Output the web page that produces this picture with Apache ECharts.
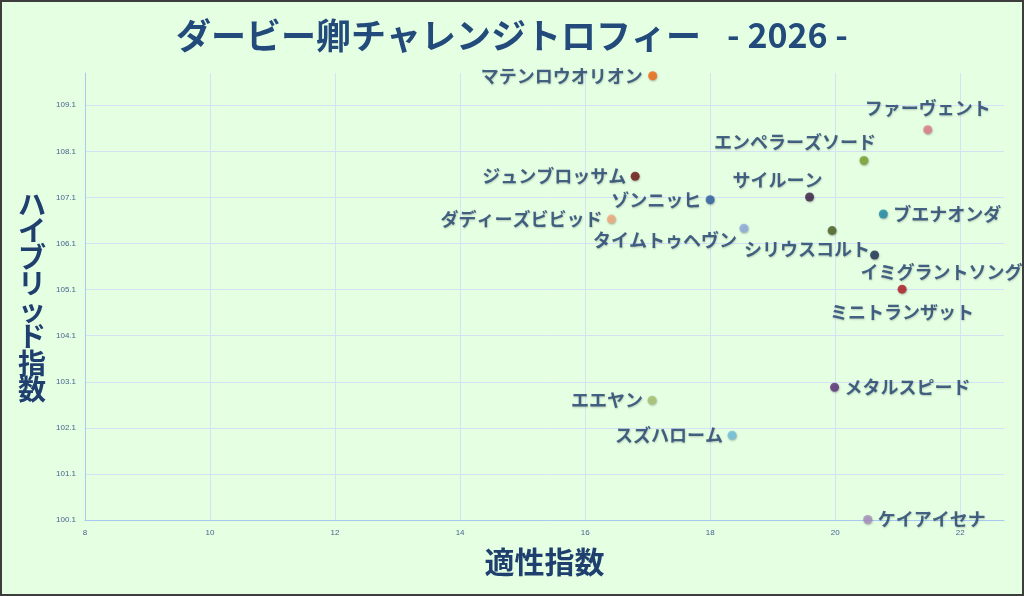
<!DOCTYPE html>
<html>
<head>
<meta charset="utf-8">
<script src="https://cdn.jsdelivr.net/npm/echarts@6/dist/echarts.min.js"></script>
<style>
html,body{margin:0;padding:0;background:#e5ffe3;}
#c{width:1024px;height:596px;}
</style>
</head>
<body>
<div id="c"></div>
<script>
// ---- data ----
const names = ['マテンロウオリオン','ファーヴェント','エンペラーズソード','ジュンブロッサム','サイルーン','ゾンニッヒ','ブエナオンダ','ダディーズビビッド','タイムトゥヘヴン','シリウスコルト','イミグラントソング','ミニトランザット','メタルスピード','エエヤン','スズハローム','ケイアイセナ'];
const xValues = [17.08, 21.48, 20.46, 16.80, 19.59, 18.00, 20.77, 16.42, 18.54, 19.95, 20.63, 21.07, 19.99, 17.07, 18.35, 20.52];
const yValues = [109.74, 108.57, 107.90, 107.56, 107.11, 107.05, 106.74, 106.63, 106.43, 106.38, 105.85, 105.11, 102.98, 102.70, 101.94, 100.11];
const xTicks = [8, 10, 12, 14, 16, 18, 20, 22];
const yTicks = [100.1, 101.1, 102.1, 103.1, 104.1, 105.1, 106.1, 107.1, 108.1, 109.1];
const titleMain = 'ダービー卿チャレンジトロフィー';
const titleYear = '- 2026 -';

// ---- styles ----
const colors = ['#f26a10','#e07d8c','#7aa22e','#6e1414','#3c2148','#2f5fa5','#1b8ca8','#f5aa7c','#8eaee0','#4b6222','#1b2f52','#b21d24','#5c2f7a','#aac472','#70c2de','#aa8ec2'];
// label anchor offset from the point centre (px) and alignment
const labelPlace = [
  {dx:-10, dy:0,   align:'right',  va:'middle'},
  {dx:0,   dy:-22, align:'center', va:'middle'},
  {dx:-69, dy:-18, align:'center', va:'middle'},
  {dx:-9,  dy:0,   align:'right',  va:'middle'},
  {dx:-32, dy:-17, align:'center', va:'middle'},
  {dx:-9,  dy:0,   align:'right',  va:'middle'},
  {dx:10,  dy:0,   align:'left',   va:'middle'},
  {dx:-9,  dy:0,   align:'right',  va:'middle'},
  {dx:-7,  dy:12,  align:'right',  va:'middle'},
  {dx:-25, dy:19,  align:'center', va:'middle'},
  {dx:67,  dy:17,  align:'center', va:'middle'},
  {dx:0,   dy:23,  align:'center', va:'middle'},
  {dx:10,  dy:0,   align:'left',   va:'middle'},
  {dx:-9,  dy:0,   align:'right',  va:'middle'},
  {dx:-9,  dy:0,   align:'right',  va:'middle'},
  {dx:10,  dy:0,   align:'left',   va:'middle'}
];
const SYM = 9;

const FONT = '"Noto Sans CJK JP", "Noto Sans", sans-serif';
const textColor = '#1f3f6e';

const points = names.map((n, i) => ({
  name: n,
  value: [xValues[i], yValues[i]],
  itemStyle: { color: colors[i] },
  label: {
    position: [SYM / 2 + labelPlace[i].dx, SYM / 2 + labelPlace[i].dy],
    align: labelPlace[i].align,
    verticalAlign: labelPlace[i].va
  }
}));

const chart = echarts.init(document.getElementById('c'), null, {renderer: 'canvas'});
chart.setOption({
  animation: false,
  backgroundColor: '#e5ffe3',
  title: {
    text: '{a|' + titleMain + '}{s|　}{b|' + titleYear + '}',
    left: 'center',
    top: 13,
    textStyle: {
      fontFamily: FONT, fontSize: 34, fontWeight: 'bold', color: '#224a7a',
      rich: {
        a: { fontFamily: FONT, fontSize: 35, fontWeight: 'bold', color: '#224a7a' },
        s: { fontFamily: FONT, fontSize: 26, fontWeight: 'bold', color: '#224a7a' },
        b: { fontFamily: FONT, fontSize: 34, fontWeight: 'bold', color: '#224a7a' }
      }
    }
  },
  grid: { left: 85, right: 20, top: 73, bottom: 76, containLabel: false },
  xAxis: {
    type: 'value',
    min: 8, max: 22.7,
    name: '適性指数',
    nameLocation: 'middle',
    nameGap: 27,
    nameTextStyle: { fontFamily: FONT, fontSize: 30, fontWeight: 'bold', color: textColor },
    axisLine: { show: true, lineStyle: { color: '#a9c8ef', width: 1 } },
    axisTick: { show: false, customValues: xTicks },
    axisLabel: { customValues: xTicks, fontSize: 8, color: '#47658d', margin: 9, fontFamily: 'Liberation Sans Narrow, Liberation Sans, sans-serif' },
    splitLine: { show: true, lineStyle: { color: '#d5e2f6', width: 1 } }
  },
  yAxis: {
    type: 'value',
    min: 100.1, max: 109.8,
    axisLine: { show: true, lineStyle: { color: '#a9c8ef', width: 1 } },
    axisTick: { show: false, customValues: yTicks },
    axisLabel: { customValues: yTicks, fontSize: 8, color: '#47658d', margin: 9, fontFamily: 'Liberation Sans Narrow, Liberation Sans, sans-serif',
      formatter: v => v.toFixed(1) },
    splitLine: { show: true, lineStyle: { color: '#d5e2f6', width: 1 } }
  },
  graphic: [
    {
      type: 'text', silent: true,
      x: 32, y: 297,
      style: {
        text: 'ハ\nイ\nブ\nリ\nッ\nド\n指\n数',
        font: 'bold 28px ' + FONT,
        fill: textColor,
        lineHeight: 26.5,
        align: 'center',
        verticalAlign: 'middle'
      }
    },
    {
      type: 'rect', silent: true, z: 100,
      shape: { x: 1, y: 1, width: 1022, height: 594 },
      style: { fill: 'none', stroke: '#3d3d3d', lineWidth: 2 }
    }
  ],
  series: [{
    type: 'scatter',
    symbolSize: SYM,
    data: points,
    itemStyle: { shadowBlur: 2, shadowColor: 'rgba(0,0,0,0.35)', shadowOffsetX: 0.5, shadowOffsetY: 1 },
    label: {
      show: true,
      formatter: p => p.name,
      fontFamily: FONT,
      fontSize: 18,
      fontWeight: 'bold',
      color: textColor,
      textShadowColor: 'rgba(0,0,0,0.25)',
      textShadowBlur: 2,
      textShadowOffsetX: 0.5,
      textShadowOffsetY: 1
    },
    labelLayout: { hideOverlap: false }
  }]
});
</script>
</body>
</html>
